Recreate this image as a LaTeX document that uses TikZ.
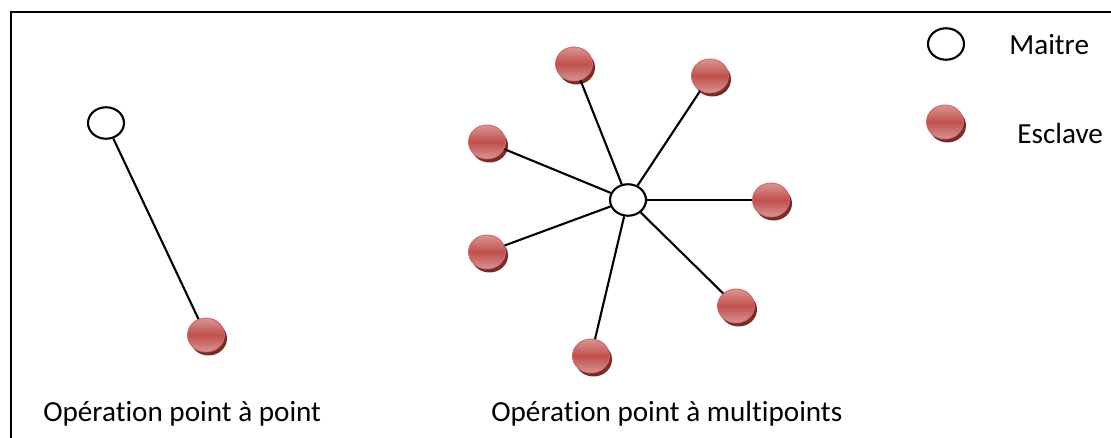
\documentclass[tikz,border=0pt]{standalone}
\usepackage{fontspec}
\setmainfont{Carlito}[Ligatures=NoCommon]
\usetikzlibrary{shapes.geometric,shadows}
\definecolor{slavetop}{HTML}{D99594}
\definecolor{slavemid}{HTML}{C0504D}
\definecolor{slaveshadow}{HTML}{7A2A28}
\begin{document}
\begin{tikzpicture}
  [x=0.02cm,y=-0.02cm,
   maitre/.style={ellipse,draw,line width=1.2pt,fill=white,inner sep=0pt,minimum width=0.72cm,minimum height=0.63cm},
   esclave/.style={ellipse,inner sep=0pt,minimum width=0.74cm,minimum height=0.68cm,
     top color=slavetop,bottom color=slavetop,middle color=slavemid,draw=slavemid!85!white,line width=0.5pt,
     drop shadow={shadow xshift=0.05cm,shadow yshift=-0.07cm,fill=slaveshadow,opacity=1}},
   label/.style={anchor=base west,inner sep=0pt,font=\fontsize{16.6}{19}\selectfont}]
  \useasboundingbox (0,0) rectangle (1111,438);
  \draw[line width=1.2pt] (11,438) -- (11,12) -- (1111,12);
  % point a point
  \node[maitre] (m1) at (106,123) {};
  \node[esclave] (e1) at (206,335) {};
  % point a multipoints
  \node[maitre] (m2) at (628,200) {};
  \node[esclave] (s1) at (574,64) {};
  \node[esclave] (s2) at (710,76) {};
  \node[esclave] (s3) at (771,200) {};
  \node[esclave] (s4) at (736,306) {};
  \node[esclave] (s5) at (591,356) {};
  \node[esclave] (s6) at (487,252) {};
  \node[esclave] (s7) at (487,142) {};
  \path[-,draw,line width=1.2pt]
    (m1) edge (e1)
    (m2) edge (s1)
    (m2) edge (s2)
    (m2) edge (s3)
    (m2) edge (s4)
    (m2) edge (s5)
    (m2) edge (s6)
    (m2) edge (s7)
    ;
  % legende
  \node[maitre] (lm) at (946,44) {};
  \node[esclave] (le) at (945,122) {};
  \node[label] (tm) at (1009,55) {Maitre};
  \node[label] (te) at (1017,144) {Esclave};
  \node[label] (t1) at (43,421) {Opération point à point};
  \node[label] (t2) at (491,421) {Opération point à multipoints};
\end{tikzpicture}
\end{document}
